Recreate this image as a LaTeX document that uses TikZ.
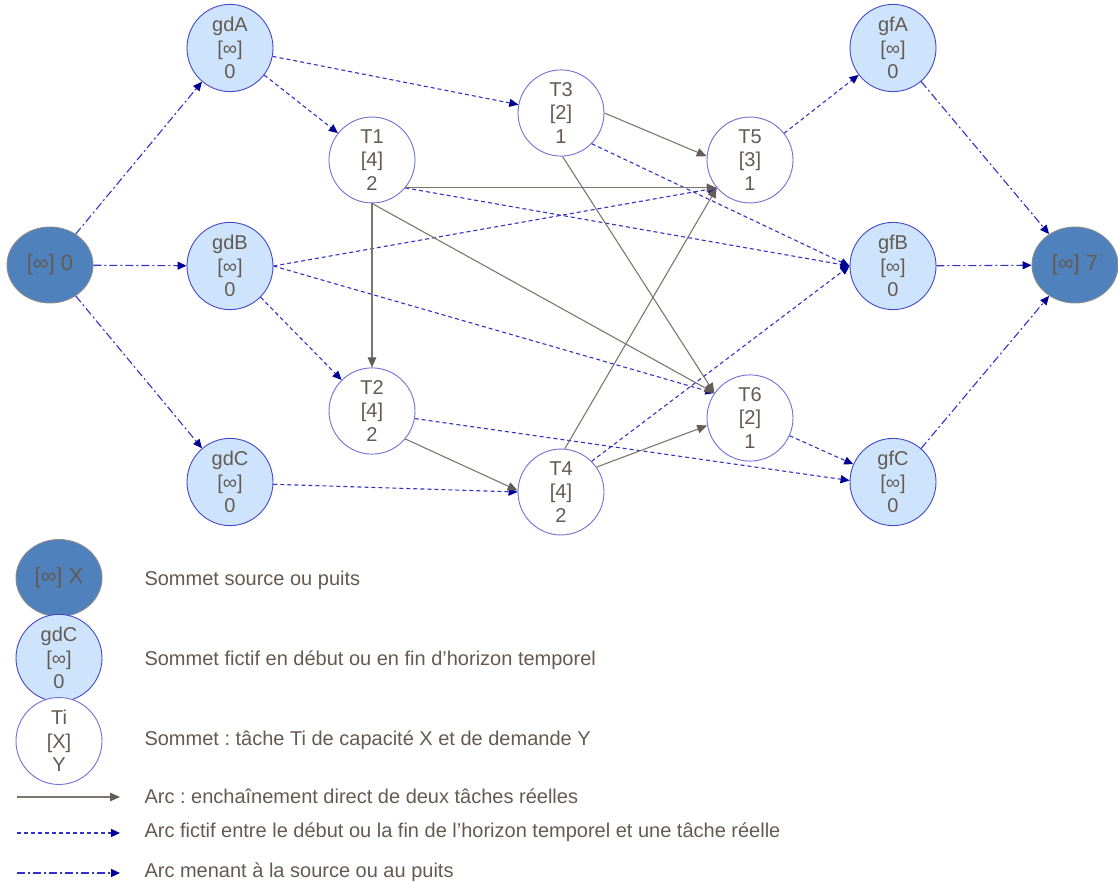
\documentclass[tikz,border=0pt]{standalone}
\usepackage{fontspec}
\setmainfont{Liberation Sans}
\usetikzlibrary{shapes.geometric,arrows.meta}
\frenchspacing

\begin{document}
\begin{tikzpicture}[
x=1pt, y=-1pt,
every node/.style={font=\fontsize{20}{23.5}\selectfont, text=txtgray},
sommet/.style={ellipse, minimum width=86pt, minimum height=76pt, inner sep=0pt, align=center, line width=0.9pt},
puits/.style={sommet, draw=black!45, fill=srcblue, font=\fontsize{22}{24}\selectfont},
fictif/.style={sommet, draw=ficborder, fill=ficblue},
tache/.style={sommet, draw=tachborder, fill=white},
legende/.style={anchor=west},
reel/.style={draw=reelgray, line width=1.1pt, -{Triangle[length=10pt,width=8.5pt,color=reeltip]}},
arcfictif/.style={draw=arcblue, line width=1.1pt, dash pattern=on 4pt off 3pt, -{Triangle[length=9pt,width=8pt,color=arcnavy]}},
arcpuits/.style={draw=arcblue, line width=1.1pt, dash pattern=on 8pt off 3pt on 2pt off 3pt, -{Triangle[length=9pt,width=8pt,color=arcnavy]}}
]
\definecolor{srcblue}{RGB}{79,129,189}
\definecolor{ficblue}{RGB}{205,228,252}
\definecolor{ficborder}{RGB}{70,70,200}
\definecolor{tachborder}{RGB}{112,112,215}
\definecolor{txtgray}{RGB}{100,90,82}
\definecolor{reelgray}{RGB}{125,118,110}
\definecolor{reeltip}{RGB}{100,92,86}
\definecolor{arcblue}{RGB}{50,50,200}
\definecolor{arcnavy}{RGB}{0,0,150}

\useasboundingbox (0,0) rectangle (1118,882);

\node[puits] (S) at (50,265) {[∞] 0};
\node[fictif] (gdA) at (230,48) {gdA\\{[∞]}\\0};
\node[fictif] (gdB) at (230,266) {gdB\\{[∞]}\\0};
\node[fictif] (gdC) at (230,482) {gdC\\{[∞]}\\0};
\node[tache] (T1) at (372,160) {T1\\{[4]}\\2};
\node[tache] (T2) at (372,411) {T2\\{[4]}\\2};
\node[tache] (T3) at (561,113) {T3\\{[2]}\\1};
\node[tache] (T4) at (561,492) {T4\\{[4]}\\2};
\node[tache] (T5) at (750,160) {T5\\{[3]}\\1};
\node[tache] (T6) at (750,418) {T6\\{[2]}\\1};
\node[fictif] (gfA) at (893,48) {gfA\\{[∞]}\\0};
\node[fictif] (gfB) at (893,266) {gfB\\{[∞]}\\0};
\node[fictif] (gfC) at (893,482) {gfC\\{[∞]}\\0};
\node[puits] (P) at (1075,265) {[∞] 7};

\draw[arcpuits] (S) -- (gdA);
\draw[arcpuits] (S) -- (gdB);
\draw[arcpuits] (S) -- (gdC);
\draw[arcpuits] (gfA) -- (P);
\draw[arcpuits] (gfB) -- (P);
\draw[arcpuits] (gfC) -- (P);

\draw[arcfictif] (gdA) -- (T1);
\draw[arcfictif] (gdA) -- (T3);
\draw[arcfictif] (gdB) -- (T2);
\draw[arcfictif] (gdB.east) -- (T5.220);
\draw[arcfictif] (gdB.east) -- (T6.145);
\draw[arcfictif] (gdC.-3) -- (T4.180);
\draw[arcfictif] (T1.-40) -- (gfB.180);
\draw[arcfictif] (T3.-45) -- (gfB.180);
\draw[arcfictif] (T4.45) -- (gfB.180);
\draw[arcfictif] (T2.-10) -- (gfC.178);
\draw[arcfictif] (T6) -- (gfC);
\draw[arcfictif] (T5) -- (gfA);

\draw[reel] (T1.-40) -- (T5.220);
\draw[reel] (T1) -- (T2);
\draw[reel] (T1.south) -- (T6.145);
\draw[reel] (T3.east) -- (T5.175);
\draw[reel] (T3.-88) -- (T6.145);
\draw[reel] (T2.-40) -- (T4.178);
\draw[reel] (T4.85) -- (T5.220);
\draw[reel] (T4.35) -- (T6.190);

% legende
\node[puits, minimum height=77pt] (lgP) at (59,578) {[∞] X};
\node[fictif, minimum height=77pt] (lgF) at (59,658) {gdC\\{[∞]}\\0};
\node[tache, minimum height=78pt] (lgT) at (59,741) {Ti\\{[X]}\\Y};
\node[legende] (txP) at (141,580) {Sommet source ou puits};
\node[legende] (txF) at (141,660) {Sommet fictif en début ou en fin d’horizon temporel};
\node[legende] (txT) at (141,740) {Sommet : tâche Ti de capacité X et de demande Y};
\node[legende] (txR) at (141,796) {Arc : enchaînement direct de deux tâches réelles};
\node[legende] (txA) at (141,832) {Arc fictif entre le début ou la fin de l’horizon temporel et une tâche réelle};
\node[legende] (txS) at (141,872) {Arc menant à la source ou au puits};
\coordinate (r0) at (17,797);
\coordinate (r1) at (120,797);
\coordinate (a0) at (17,833);
\coordinate (a1) at (120,833);
\coordinate (s0) at (17,873);
\coordinate (s1) at (120,873);
\draw[reel] (r0) -- (r1);
\draw[arcfictif] (a0) -- (a1);
\draw[arcpuits] (s0) -- (s1);
\end{tikzpicture}
\end{document}
